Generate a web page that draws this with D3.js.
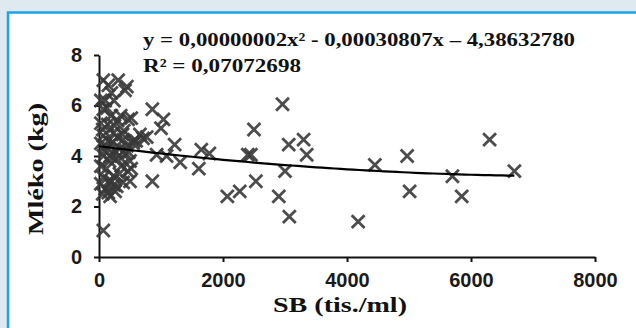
<!DOCTYPE html>
<html>
<head>
<meta charset="utf-8">
<script src="https://cdn.jsdelivr.net/npm/d3@7"></script>
<style>
  html, body { margin: 0; padding: 0; background: #dfe9f0; }
  svg { display: block; }
</style>
</head>
<body>
<svg id="chart" width="636" height="328"></svg>
<script>
// SB (tis./ml)
const sbValues = [
  6700, 6300, 5700, 5850, 4970, 5010, 4450, 4180, 2960, 3060, 3300, 3350,
  3000, 2900, 3070, 2500, 2400, 2450, 2530, 2270, 2070, 1610, 1650, 1780,
  860, 860, 1040, 1000, 1220, 1310, 1090, 930, 770, 710, 560, 660,
  70, 310, 450, 420, 200, 150, 70, 200, 130, 470, 520, 300,
  250, 70, 230, 390, 550, 150, 300, 70, 170, 340, 500, 430,
  260, 110, 70, 230, 390, 500, 150, 285, 180, 100, 330, 70,
  30, 30, 30, 30, 30, 120, 360, 460, 200, 260, 520, 600,
  400, 350, 100, 240, 180, 450, 320, 60, 140, 220, 280, 90,
  380, 160, 240, 480, 60
]
// Mléko (kg)
const milkValues = [
  3.4, 4.65, 3.2, 2.4, 4.0, 2.6, 3.65, 1.4, 6.05, 4.45, 4.65, 4.05,
  3.4, 2.4, 1.6, 5.05, 4.05, 4.05, 3.0, 2.6, 2.4, 3.5, 4.25, 4.1,
  3.0, 5.85, 5.45, 5.1, 4.45, 3.75, 4.0, 4.05, 4.75, 4.7, 4.6, 4.85,
  7.0, 7.0, 6.75, 6.6, 6.5, 6.8, 5.85, 5.6, 5.9, 5.45, 5.5, 5.4,
  5.2, 4.8, 4.9, 4.65, 4.5, 4.6, 4.75, 4.0, 3.8, 4.3, 3.8, 4.1,
  4.2, 4.4, 3.15, 3.2, 2.95, 3.0, 2.55, 2.8, 2.4, 2.7, 3.3, 1.05,
  3.6, 4.5, 5.3, 6.2, 2.9, 3.5, 3.6, 3.4, 3.0, 2.6, 3.5, 4.6,
  5.0, 5.6, 6.2, 6.2, 4.0, 4.4, 4.0, 5.05, 5.25, 4.55, 3.9, 4.2,
  4.85, 3.0, 2.85, 4.15, 2.5
]
const xTicks = [0, 2000, 4000, 6000, 8000]
const yTicks = [0, 2, 4, 6, 8]
// trend: a*x^2 + b*x + c
const trendCoef = [0.00000002, -0.00030807, 4.3863278]
const trendRange = [0, 6700]
const equationLines = ['y = 0,00000002x\u00b2 - 0,00030807x \u2013 4,38632780', 'R\u00b2 = 0,07072698']

const svg = d3.select('#chart')

// blue framed panel
svg.append('rect')
  .attr('x', 8).attr('y', 12.5)
  .attr('width', 700).attr('height', 400)
  .attr('fill', '#fff')
  .attr('stroke', '#1ba4e6')
  .attr('stroke-width', 2.5)

const x = d3.scaleLinear().domain([0, 8000]).range([99, 595])
const y = d3.scaleLinear().domain([0, 8]).range([257, 55])

const tickFont = '"Liberation Sans", Arial, sans-serif'
const serif = '"Liberation Serif", "Times New Roman", serif'

const xAxis = svg.append('g')
  .attr('transform', 'translate(0,' + y(0) + ')')
  .call(d3.axisBottom(x).tickValues(xTicks).tickFormat(d3.format('d')).tickSize(5).tickSizeOuter(0).tickPadding(11))
const yAxis = svg.append('g')
  .attr('transform', 'translate(' + x(0) + ',0)')
  .call(d3.axisLeft(y).tickValues(yTicks).tickSize(5).tickSizeOuter(0).tickPadding(12))

;[xAxis, yAxis].forEach(function (g) {
  g.select('.domain').attr('stroke', '#111').attr('stroke-width', 2)
  g.selectAll('.tick line').attr('stroke', '#111').attr('stroke-width', 2)
  g.selectAll('.tick text')
    .attr('fill', '#1a1a1a')
    .style('font-family', tickFont)
    .style('font-weight', 'bold')
    .style('font-size', '20px')
})

// points
const times = d3.symbol().type(d3.symbolTimes).size(110)
svg.append('g')
  .selectAll('path')
  .data(d3.range(sbValues.length))
  .enter()
  .append('path')
  .attr('transform', function (i) {
    return 'translate(' + x(sbValues[i]) + ',' + y(milkValues[i]) + ')'
  })
  .attr('d', times)
  .attr('fill', 'none')
  .attr('stroke', '#383838')
  .attr('stroke-opacity', 0.9)
  .attr('stroke-width', 2.8)

// trend line
const trend = function (v) {
  return trendCoef[0] * v * v + trendCoef[1] * v + trendCoef[2]
}
svg.append('path')
  .datum(d3.range(trendRange[0], trendRange[1] + 1, 100))
  .attr('d', d3.line().x(function (d) { return x(d) }).y(function (d) { return y(trend(d)) }))
  .attr('fill', 'none')
  .attr('stroke', '#000')
  .attr('stroke-width', 2.2)

// equation
svg.selectAll('.eq')
  .data(equationLines)
  .enter()
  .append('text')
  .attr('class', 'eq')
  .attr('x', 143)
  .attr('y', function (_, i) { return 46 + i * 26 })
  .attr('textLength', function (_, i) { return i === 0 ? 432 : 158 })
  .attr('lengthAdjust', 'spacingAndGlyphs')
  .attr('fill', '#111')
  .style('font-family', serif)
  .style('font-weight', 'bold')
  .style('font-size', '19px')
  .text(function (d) { return d })

// axis titles
svg.append('text')
  .attr('x', 340)
  .attr('y', 312)
  .attr('text-anchor', 'middle')
  .attr('textLength', 134)
  .attr('lengthAdjust', 'spacingAndGlyphs')
  .attr('fill', '#111')
  .style('font-family', serif)
  .style('font-weight', 'bold')
  .style('font-size', '22px')
  .text('SB (tis./ml)')

svg.append('text')
  .attr('transform', 'translate(43,169) rotate(-90)')
  .attr('text-anchor', 'middle')
  .attr('textLength', 132)
  .attr('lengthAdjust', 'spacingAndGlyphs')
  .attr('fill', '#111')
  .style('font-family', serif)
  .style('font-weight', 'bold')
  .style('font-size', '22px')
  .text('Mléko (kg)')
</script>
</body>
</html>
